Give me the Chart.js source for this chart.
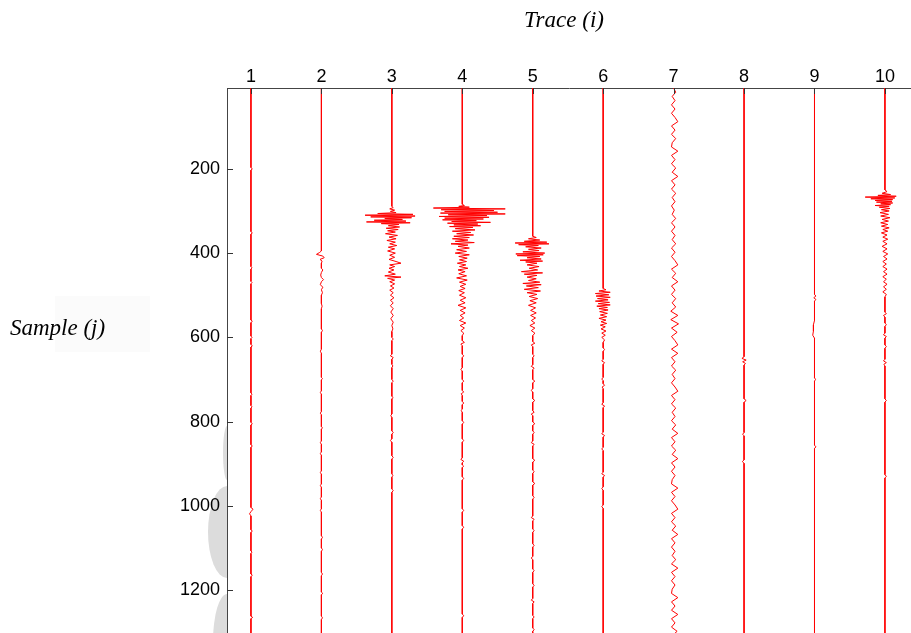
<!DOCTYPE html>
<html>
<head>
<meta charset="utf-8">
<title>Trace / Sample</title>
<script src="https://cdn.jsdelivr.net/npm/chart.js@4.4.0/dist/chart.umd.min.js"></script>
<style>
html, body { margin: 0; padding: 0; background: #fff; overflow: hidden; }
canvas { display: block; }
</style>
</head>
<body>
<canvas id="seis" width="911" height="633"></canvas>
<script>
// axis ticks
const traceNumbers = [1, 2, 3, 4, 5, 6, 7, 8, 9, 10];
const sampleTicks = [200, 400, 600, 800, 1000, 1200];

// each trace: [sample j, amplitude] pairs, amplitude in 1/100 of the trace spacing
const trace1 = [[8,0],[197,0],[200,2],[203,0],[349,0],[352,2],[355,0],[432,0],[435,1.5],[438,0],[467,0],[470,1.5],[473,0],
  [559,0],[562,2],[565,0],[597,0],[600,1.5],[603,0],[617,0],[620,2],[623,0],[732,0],[735,1.5],[738,0],[762,0],[765,1.5],[768,0],
  [802,0],[805,2],[808,0],[855,0],[858,2],[861,0],[1004,0],[1008,3],[1014,0],[1019,-2],[1024,0],[1057,0],[1060,2],[1063,0],
  [1107,0],[1110,1.5],[1113,0],[1162,0],[1165,2],[1168,0],[1262,0],[1265,2.5],[1268,0],[1310,0]];

const trace2 = [[8,0],[395,0],[399,-3],[403,-7],[407,2],[411,4],[415,-2],[419,1],[424,0],[436,0],[440,2],[446,0],[452,-1],[458,0],
  [463,3],[468,0],[475,-1.5],[481,2],[487,0],[494,1.5],[500,0],[520,0],[526,1],[532,0],[580,0],[584,1.5],[588,0],[628,0],[633,-1.5],[638,0],
  [695,0],[698,1.5],[701,0],[727,0],[731,-1.5],[735,0],[776,0],[780,-1.5],[784,0],[812,0],[815,1.5],[818,0],[846,0],[850,-1.5],[854,0],
  [872,0],[876,-1.5],[880,0],[917,0],[921,-1.5],[925,0],[948,0],[952,-1.5],[956,0],[979,0],[983,-1.5],[987,0],[1007,0],[1011,-1.5],[1015,0],
  [1071,0],[1075,1.5],[1079,0],[1100,0],[1104,1.5],[1108,0],[1158,0],[1162,1.5],[1166,0],[1205,0],[1208,2],[1211,0],[1262,0],[1266,1.5],[1270,0],[1310,0]];

const trace3 = [[8,0],[289,0],[292,2],[295,-3],[298,4],[301,-2],[304,6],[306,-20],[308,30],[310,-38],[312,33],[314,-30],[316,28],
  [318,-10],[320,15],[322,-25],[324,20],[326,-36],[328,26],[330,-15],[332,10],[335,-5],[338,11],[341,-8],[344,9],[347,-6],[350,5],
  [354,-9],[358,8],[362,-4],[366,6],[370,-7],[374,5],[378,-3],[382,7],[386,-5],[390,4],[395,-6],[400,5],[405,-3],[410,4],[415,-4],
  [420,6],[424,13],[428,-3],[432,4],[436,-4],[440,3],[445,-5],[450,5],[454,-10],[457,13],[460,-6],[464,4],[468,-3],[473,4],[478,-2],
  [483,3],[488,-3],[494,2],[500,-2],[506,3],[512,-2],[518,2],[525,-2],[532,2],[540,-1.5],[548,2],[556,-1.5],[564,2],[572,0],[580,1.5],[586,0],
  [600,0],[604,2],[608,0],[640,0],[644,-2],[648,2],[652,0],[664,0],[668,1.5],[672,0],[700,0],[704,2],[708,0],[740,0],[743,2],[746,0],
  [782,0],[786,-1.5],[790,0],[822,0],[826,2],[830,0],[841,0],[845,-2],[849,0],[881,0],[885,2],[889,0],[924,0],[928,1.5],[932,0],
  [960,0],[964,2],[968,0],[1310,0]];

const trace4 = [[8,0],[284,0],[287,3],[289,-5],[291,10],[293,-41],[295,61],[297,-30],[299,45],[301,-25],[303,50],[305,-31],[307,61],
  [309,-20],[311,35],[313,-33],[315,38],[317,-25],[319,30],[321,-28],[323,20],[325,-15],[327,40],[329,-21],[331,22],[333,-12],[335,26],
  [337,-18],[339,15],[342,-10],[345,18],[348,-14],[351,12],[354,-8],[357,16],[360,-12],[363,10],[366,-14],[369,8],[372,-10],[375,17],
  [378,-16],[381,8],[384,-6],[388,10],[392,-8],[396,6],[400,-10],[404,10],[408,-5],[412,7],[416,-4],[420,6],[424,-7],[428,5],[432,-4],
  [436,8],[440,-6],[444,4],[449,-5],[454,6],[459,-8],[464,7],[469,-4],[474,5],[479,-3],[484,4],[489,-5],[494,3],[500,-4],[506,5],
  [512,-3],[518,4],[524,-6],[530,5],[536,-3],[542,4],[548,-3],[554,2],[560,-4],[566,5],[572,-3],[578,3],[584,-2],[590,2],[596,0],
  [608,0],[612,3],[616,-2],[620,0],[640,0],[644,2],[648,0],[672,0],[676,-2],[680,0],[700,0],[704,2],[708,0],[726,0],[730,2],[734,-1.5],[738,0],
  [752,0],[756,2],[760,0],[770,0],[774,-1.5],[778,0],[798,0],[802,2],[806,0],[841,0],[845,2],[849,0],[886,0],[890,-2],[894,2],[898,0],
  [903,0],[906,2],[909,0],[931,0],[935,2],[939,0],[1007,0],[1011,2],[1015,0],[1047,0],[1051,2],[1055,0],[1257,0],[1261,2],[1265,0],[1310,0]];

const trace5 = [[8,0],[360,0],[363,5],[366,-6],[369,10],[372,-12],[374,20],[376,-25],[378,23],[380,-20],[382,8],[385,-10],[388,12],
  [391,-6],[394,9],[397,-14],[400,17],[402,-24],[404,15],[406,-22],[408,10],[411,-8],[414,12],[417,-18],[419,14],[421,-10],[424,6],
  [428,-8],[432,9],[436,-5],[440,7],[444,-16],[447,14],[450,-12],[453,6],[457,-8],[461,5],[465,-6],[469,10],[472,-14],[475,12],
  [478,-9],[482,8],[486,-12],[490,11],[494,-8],[498,6],[503,-5],[508,7],[513,-4],[518,5],[524,-6],[530,4],[536,-3],[542,5],[548,-3],
  [554,4],[560,-2],[566,3],[572,-4],[578,3],[584,-2],[590,3],[596,0],
  [610,0],[614,3],[618,-2],[622,0],[640,0],[644,2],[648,0],[665,0],[669,-2],[673,2],[677,0],[700,0],[704,3],[708,0],[722,0],[726,-2],[730,0],
  [746,0],[750,3],[754,0],[774,0],[778,2],[782,-2],[786,0],[801,0],[805,3],[809,0],[822,0],[826,2],[830,0],[846,0],[850,-2],[854,2],[858,0],
  [888,0],[892,3],[896,0],[915,0],[919,2],[923,0],[943,0],[947,3],[951,0],[976,0],[980,2],[984,0],[1024,0],[1028,-2],[1032,2],[1036,0],
  [1055,0],[1059,2],[1063,0],[1090,0],[1094,2],[1098,0],[1120,0],[1124,-2],[1128,0],[1150,0],[1154,2],[1158,0],[1185,0],[1189,2],[1193,0],
  [1220,0],[1224,-2],[1228,2],[1232,0],[1260,0],[1264,2],[1268,0],[1290,0],[1294,2],[1298,0],[1310,0]];

const trace6 = [[8,0],[484,0],[487,4],[490,-6],[493,10],[496,-11],[499,8],[502,-10],[505,10],[508,-8],[511,7],[514,-11],[517,9],
  [520,-7],[523,10],[526,-9],[529,6],[532,-6],[535,7],[539,-5],[543,6],[547,-4],[551,5],[555,-6],[559,4],[563,-3],[567,5],[571,-4],
  [575,3],[580,-3],[585,4],[590,-2],[595,3],[600,-2],[606,2],[612,0],[625,0],[629,2],[633,0],[652,0],[656,-2],[660,2],[664,0],
  [695,0],[699,-2],[703,0],[710,0],[714,2],[718,-1.5],[722,0],[755,0],[759,-2],[763,2],[767,0],[825,0],[829,-2],[833,2],[837,0],
  [861,0],[865,-2],[869,0],[920,0],[924,-2],[928,2],[932,0],[955,0],[959,-2],[963,0],[998,0],[1002,-2],[1006,0],[1310,0]];

// trace 7 wiggles all the way down: one amplitude every 10 samples from sample 8
const trace7Start = 8;
const trace7Step = 10;
const trace7Amp = [0,3,-2,2,-3,2,-3,2,6,-3, 2,-3,3,-2,-3,6,-3,2,-3,3, -2,6,-3,2,-3,3,-2,2,-3,1,
  -2,3,-3,2,-3,2,-2,3,-3,2, -3,2,6,-3,3,-2,6,-3,2,-3, 3,-2,3,-4,6,-4,7,-3,5,-3,
  2,6,-3,6,-3,2,-3,3,-2,2, -3,2,6,-3,2,-3,3,-2,2,-3, 3,-2,6,-3,2,-3,3,-2,6,-3,
  2,-3,2,-2,-3,6,-3,2,-3,2, 6,-3,2,-3,3,-2,6,-3,2,-3, 2,-2,3,-3,6,-3,2,-3,2,-2,
  -3,6,-3,2,-3,6,-3,2,-3,5,-2];
const trace7 = trace7Amp.map((a, k) => [trace7Start + k * trace7Step, a]);

const trace8 = [[8,0],[646,0],[650,-3],[654,3],[658,-2],[662,2],[666,0],[746,0],[750,3],[754,0],[826,0],[830,-2],[834,0],
  [891,0],[895,-2.5],[899,0],[1310,0]];

const trace9 = [[8,0],[498,0],[502,2],[506,-1],[510,2],[514,0],[560,0],[570,-1.5],[585,-1.5],[595,-2.5],[602,0],[696,0],[700,1.5],[704,0],
  [856,0],[860,2],[864,0],[1310,0]];

const trace10 = [[8,0],[250,0],[254,3],[258,-4],[261,8],[263,-10],[265,16],[267,-28],[269,14],[271,-20],[273,11],[275,-14],[277,10],
  [279,-12],[281,11],[283,-6],[285,8],[287,-14],[289,6],[291,-8],[294,7],[297,-5],[300,6],[304,-7],[308,5],[312,-6],[316,7],[320,-4],
  [324,5],[328,-6],[332,4],[336,-5],[340,6],[344,-3],[348,4],[352,-5],[357,3],[362,-3],[367,4],[372,-3],[378,3],[384,-4],[390,3],
  [396,-3],[402,4],[408,-2],[414,3],[420,-3],[426,2],[432,-3],[438,3],[444,-2],[450,3],[456,-3],[462,2],[468,-2],[474,3],[480,-2],
  [486,2],[492,-3],[498,2],[504,0],[540,0],[544,2],[548,-2],[552,0],[566,0],[570,2],[574,0],[590,0],[594,-2],[598,2],[602,0],
  [618,0],[622,2],[626,0],[652,0],[656,-2],[660,2],[664,-1.5],[668,0],[746,0],[750,2],[754,0],[926,0],[930,2],[934,0],[1310,0]];

const traces = [trace1, trace2, trace3, trace4, trace5, trace6, trace7, trace8, trace9, trace10];
const gain = 0.01;

const datasets = traces.map(function (tr, i) {
    return {
        data: tr.map(p => ({ x: traceNumbers[i] + p[1] * gain, y: p[0] })),
        showLine: true,
        borderColor: '#ff0000',
        borderWidth: 1,
        pointRadius: 0,
        tension: 0
    };
});

// inward tick marks, axis titles and the grey smudges left of the axis
const extras = {
    id: 'extras',
    beforeDraw(chart) {
        const ctx = chart.ctx;
        const a = chart.chartArea;
        ctx.save();
        ctx.fillStyle = '#fbfbfb';
        ctx.fillRect(55, 296, 95, 56);
        ctx.beginPath();
        ctx.rect(0, 0, a.left, chart.height);
        ctx.clip();
        ctx.fillStyle = '#dcdcdc';
        ctx.beginPath(); ctx.ellipse(a.left, 453, 4, 27, 0, 0, Math.PI * 2); ctx.fill();
        ctx.beginPath(); ctx.ellipse(a.left, 532, 19, 46, 0, 0, Math.PI * 2); ctx.fill();
        ctx.beginPath(); ctx.ellipse(a.left, 642, 14, 48, 0, 0, Math.PI * 2); ctx.fill();
        ctx.restore();
    },
    afterDatasetsDraw(chart) {
        const ctx = chart.ctx;
        const a = chart.chartArea;
        const sx = chart.scales.x, sy = chart.scales.y;
        ctx.save();
        ctx.strokeStyle = '#333';
        ctx.lineWidth = 1;
        ctx.beginPath();
        traceNumbers.forEach(v => {
            const px = Math.round(sx.getPixelForValue(v)) + 0.5;
            ctx.moveTo(px, a.top);
            ctx.lineTo(px, a.top + 6);
        });
        sampleTicks.forEach(v => {
            const py = Math.round(sy.getPixelForValue(v)) + 0.5;
            ctx.moveTo(a.left, py);
            ctx.lineTo(a.left + 6, py);
        });
        ctx.stroke();

        ctx.fillStyle = '#000';
        ctx.font = 'italic 23px "Liberation Serif", "Times New Roman", serif';
        ctx.textBaseline = 'middle';
        ctx.textAlign = 'center';
        ctx.fillText('Trace (i)', 564, 21);
        ctx.textAlign = 'left';
        ctx.fillText('Sample (j)', 10, 329);
        ctx.restore();
    }
};

const tickFont = { family: '"Liberation Sans", Arial, sans-serif', size: 18 };

function noPadding(s) {
    s.paddingTop = 0;
    s.paddingBottom = 0;
    s.paddingLeft = 0;
    s.paddingRight = 0;
}

new Chart(document.getElementById('seis'), {
    type: 'scatter',
    data: { datasets: datasets },
    options: {
        responsive: false,
        animation: false,
        layout: { padding: 0 },
        plugins: { legend: { display: false }, tooltip: { enabled: false } },
        scales: {
            x: {
                type: 'linear',
                position: 'top',
                min: 0.66,
                max: 10.37,
                grid: { display: false, drawTicks: false },
                border: { display: true, color: '#444', width: 1 },
                ticks: { font: tickFont, color: '#000', padding: 0, callback: v => String(v) },
                afterBuildTicks: s => { s.ticks = traceNumbers.map(v => ({ value: v })); },
                afterFit: s => { s.height = 88; noPadding(s); }
            },
            y: {
                type: 'linear',
                reverse: true,
                min: 8,
                max: 1302,
                grid: { display: false, drawTicks: false },
                border: { display: true, color: '#444', width: 1 },
                ticks: { font: tickFont, color: '#000', padding: 7, callback: v => String(v) },
                afterBuildTicks: s => { s.ticks = sampleTicks.map(v => ({ value: v })); },
                afterFit: s => { s.width = 227; noPadding(s); }
            }
        }
    },
    plugins: [extras]
});
</script>
</body>
</html>
